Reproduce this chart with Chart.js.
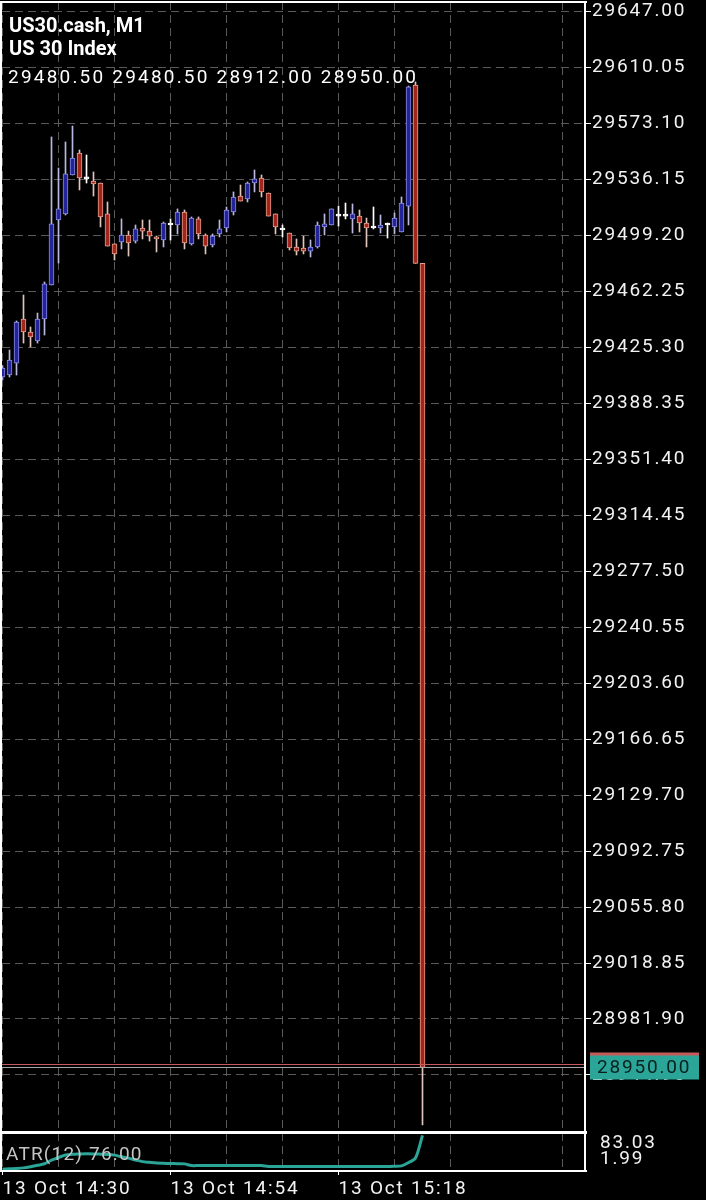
<!DOCTYPE html>
<html>
<head>
<meta charset="utf-8">
<script src="https://cdn.jsdelivr.net/npm/chart.js@4.4.1/dist/chart.umd.min.js"></script>
<style>
  html, body { margin: 0; padding: 0; background: #000; }
  canvas { display: block; }
</style>
</head>
<body>
<canvas id="myChart" width="706" height="1200"></canvas>
<script>
const symbolName = "US30.cash, M1";
const symbolDesc = "US 30 Index";
const timeLabels = ["13 Oct 14:30", "13 Oct 14:54", "13 Oct 15:18"];
const priceTicks = [29647.00, 29610.05, 29573.10, 29536.15, 29499.20, 29462.25, 29425.30, 29388.35,
  29351.40, 29314.45, 29277.50, 29240.55, 29203.60, 29166.65, 29129.70, 29092.75, 29055.80,
  29018.85, 28981.90, 28944.95];

// one candle per minute, 14:30 .. 15:30
const opens = [29405.5, 29406.8, 29414.7, 29443.8, 29435.2, 29429.3, 29443.8, 29466.2, 29509.1, 29513.1,
  29538.8, 29553.3, 29536.2, 29534.8, 29533.5, 29513.1, 29493.3, 29494.6, 29499.2, 29495.2,
  29503.8, 29501.8, 29497.9, 29495.9, 29505.8, 29505.8, 29514.4, 29493.3, 29509.8, 29499.2,
  29492.6, 29499.9, 29503.8, 29514.4, 29524.9, 29523.0, 29533.5, 29536.8, 29526.9, 29513.1,
  29502.5, 29500.5, 29491.3, 29490.6, 29488.6, 29491.3, 29504.5, 29505.8, 29511.7, 29511.7,
  29509.8, 29511.7, 29507.1, 29503.8, 29503.8, 29505.8, 29504.5, 29501.2, 29518.3, 29598.2,
  29480.5];
const highs = [29413.0, 29423.3, 29442.5, 29459.6, 29438.5, 29447.7, 29468.2, 29563.9, 29543.4, 29560.6,
  29571.1, 29555.3, 29552.0, 29540.8, 29533.5, 29521.0, 29493.3, 29509.8, 29501.8, 29505.8,
  29509.1, 29509.1, 29498.5, 29507.8, 29509.8, 29516.4, 29515.7, 29511.1, 29511.1, 29499.9,
  29499.9, 29509.1, 29517.7, 29527.6, 29532.2, 29534.2, 29542.1, 29538.8, 29526.9, 29513.1,
  29505.8, 29500.5, 29496.6, 29498.5, 29495.9, 29507.8, 29513.1, 29516.4, 29518.3, 29520.3,
  29519.7, 29515.7, 29510.4, 29517.7, 29512.4, 29507.1, 29513.7, 29524.3, 29597.5, 29600.2,
  29480.5];
const lows = [29403.5, 29405.5, 29406.8, 29427.9, 29425.3, 29427.9, 29433.2, 29466.2, 29480.7, 29512.4,
  29538.8, 29528.9, 29533.5, 29524.9, 29504.5, 29491.9, 29482.7, 29490.0, 29485.3, 29493.9,
  29496.6, 29495.2, 29488.0, 29491.3, 29495.9, 29499.9, 29490.0, 29492.6, 29496.6, 29486.7,
  29491.3, 29497.9, 29501.2, 29512.4, 29521.6, 29521.0, 29527.6, 29524.3, 29511.7, 29499.9,
  29497.9, 29489.3, 29486.0, 29486.7, 29484.7, 29490.6, 29499.2, 29505.8, 29505.1, 29509.8,
  29500.5, 29501.2, 29491.3, 29503.2, 29500.5, 29497.2, 29499.9, 29501.2, 29505.8, 29480.5,
  28912.0];
const closes = [29411.4, 29416.7, 29441.8, 29435.2, 29431.9, 29443.8, 29466.9, 29506.5, 29516.4, 29539.5,
  29550.0, 29536.8, 29536.2, 29532.9, 29511.1, 29491.9, 29486.7, 29499.2, 29493.9, 29503.2,
  29501.8, 29498.5, 29496.6, 29507.1, 29505.8, 29514.4, 29493.9, 29510.4, 29499.9, 29491.9,
  29498.5, 29503.2, 29515.7, 29524.3, 29521.6, 29533.5, 29536.2, 29527.6, 29511.7, 29504.5,
  29502.5, 29490.6, 29488.6, 29488.6, 29491.3, 29505.8, 29506.5, 29516.4, 29511.7, 29511.7,
  29513.1, 29507.1, 29503.8, 29503.8, 29505.8, 29505.8, 29510.4, 29520.3, 29596.9, 29480.5,
  28950.0];
const atr = [5.8, 6.6, 7.3, 8.5, 10.8, 13.8, 17.0, 24.5, 30.0, 35.2,
  36.6, 37.2, 37.6, 37.5, 37.0, 36.4, 35.0, 31.5, 28.7, 25.0,
  21.5, 20.0, 18.6, 18.0, 17.6, 17.2, 16.8, 13.3, 13.3, 13.3,
  13.3, 13.3, 13.3, 13.3, 13.3, 13.3, 13.3, 13.2, 11.3, 11.2,
  11.2, 11.2, 11.2, 11.2, 11.2, 11.2, 11.2, 11.2, 11.2, 11.2,
  11.2, 11.2, 11.2, 11.2, 11.2, 11.2, 11.8, 12.6, 19.5, 29.0,
  76.0];
const atrLabels = ["83.03", "1.99"];
const atrMin = 1.99, atrMax = 83.03;
const bidPrice = 28950.00;
const askPrice = 28952.2;

const yMax = 29652.94, yMin = 28907.34;

const bullFill = '#24249a', bullLine = '#8c8ce0', bullWick = '#b8b8e0';
const bearFill = '#a3261c', bearLine = '#e2a08e', bearWick = '#e0c4bc';
const dojiColor = '#ffffff';
const gridColor = '#5a5a5a';
const teal = '#2aa597';
const numFont = {family: 'Roboto', size: 19};

const idx = closes.map((_, i) => i);
const dir = i => closes[i] > opens[i] ? 1 : (closes[i] < opens[i] ? -1 : 0);

const noPad = axis => {
  axis.paddingTop = 0;
  axis.paddingBottom = 0;
  axis.paddingLeft = 0;
  axis.paddingRight = 0;
};

const mtPlugin = {
  id: 'mtPlugin',
  beforeDraw(chart) {
    const ctx = chart.ctx;
    ctx.save();
    ctx.fillStyle = '#000';
    ctx.fillRect(0, 0, chart.width, chart.height);
    ctx.restore();
    ctx.letterSpacing = '1.8px';
  },
  afterDraw(chart) {
    const ctx = chart.ctx;
    const y = chart.scales.y;
    const area = chart.chartArea;
    const yAtr = chart.scales.yAtr;
    ctx.save();

    // ask / bid lines
    const askY = Math.round(y.getPixelForValue(askPrice)) + 0.5;
    const bidY = Math.round(y.getPixelForValue(bidPrice)) + 0.5;
    ctx.lineWidth = 1;
    ctx.strokeStyle = '#c65a5a';
    ctx.beginPath(); ctx.moveTo(area.left, askY); ctx.lineTo(area.right, askY); ctx.stroke();
    ctx.strokeStyle = '#a8a8a8';
    ctx.beginPath(); ctx.moveTo(area.left, bidY); ctx.lineTo(area.right, bidY); ctx.stroke();

    // frame
    ctx.fillStyle = '#fff';
    ctx.fillRect(0, 1, 2, yAtr.bottom);
    ctx.fillRect(0, 1, area.right + 1, 2);
    ctx.fillRect(area.right - 2, 1, 2, yAtr.bottom);
    ctx.fillRect(0, y.bottom - 1, area.right + 1, 3);
    ctx.fillRect(0, yAtr.bottom - 1, area.right + 1, 2);

    // price labels
    ctx.fillStyle = '#c65a5a';
    ctx.fillRect(area.right + 4, askY - 12, 109, 24);
    ctx.fillStyle = teal;
    ctx.fillRect(area.right + 4, bidY - 12, 109, 24);
    ctx.font = '19px Roboto';
    ctx.letterSpacing = '1.8px';
    ctx.textBaseline = 'middle';
    ctx.fillStyle = '#08201d';
    ctx.fillText(bidPrice.toFixed(2), area.right + 11, bidY + 1);

    // header
    ctx.letterSpacing = '0px';
    ctx.fillStyle = '#fff';
    ctx.textBaseline = 'alphabetic';
    ctx.font = 'bold 20px Roboto';
    ctx.fillText(symbolName, 9, 32);
    ctx.fillText(symbolDesc, 9, 55);
    const last = closes.length - 1;
    ctx.font = '19px Roboto';
    ctx.letterSpacing = '2.2px';
    ctx.fillText([opens[last], highs[last], lows[last], closes[last]].map(v => v.toFixed(2)).join(' '), 8, 83);

    // indicator name
    ctx.letterSpacing = '1.2px';
    ctx.fillStyle = '#c4c4c4';
    ctx.fillText('ATR(12) ' + atr[last].toFixed(2), 6, 1160);
    ctx.restore();
  }
};

const chart = new Chart("myChart", {
  type: "bar",
  data: {
    datasets: [
      {
        label: 'ATR',
        type: 'line',
        data: idx.map(i => ({x: i, y: atr[i]})),
        yAxisID: 'yAtr',
        borderColor: teal,
        borderWidth: 3,
        pointRadius: 0,
        tension: 0.3,
        order: 0
      },
      {
        label: 'body',
        data: idx.map(i => ({x: i, y: [opens[i], closes[i]]})),
        yAxisID: 'y',
        backgroundColor: idx.map(i => dir(i) > 0 ? bullFill : dir(i) < 0 ? bearFill : dojiColor),
        borderColor: idx.map(i => dir(i) > 0 ? bullLine : dir(i) < 0 ? bearLine : dojiColor),
        borderWidth: 1,
        borderSkipped: false,
        barThickness: 5,
        minBarLength: 2,
        grouped: false,
        order: 1
      },
      {
        label: 'wick',
        data: idx.map(i => ({x: i, y: [lows[i], highs[i]]})),
        yAxisID: 'y',
        backgroundColor: idx.map(i => dir(i) > 0 ? bullWick : dir(i) < 0 ? bearWick : dojiColor),
        borderWidth: 0,
        barThickness: 1,
        grouped: false,
        order: 2
      }
    ]
  },
  options: {
    responsive: false,
    animation: false,
    devicePixelRatio: 1,
    layout: {padding: {left: 2, top: 2, right: 0, bottom: 0}},
    plugins: {legend: {display: false}, tooltip: {enabled: false}},
    scales: {
      x: {
        type: 'linear',
        min: -0.5 / 7,
        max: -0.5 / 7 + 584 / 7,
        offset: false,
        afterBuildTicks: axis => {
          const t = [];
          for (let v = 0; v <= axis.max; v += 8) t.push({value: v});
          axis.ticks = t;
        },
        afterFit: axis => { axis.height = 29; noPad(axis); },
        ticks: {
          color: '#f2f2f2',
          font: numFont,
          align: 'start',
          maxRotation: 0,
          autoSkip: false,
          padding: 3,
          callback: v => v % 24 === 0 ? timeLabels[v / 24] : ''
        },
        grid: {
          color: gridColor,
          offset: false,
          tickLength: 4,
          tickColor: c => (c.tick && c.tick.value % 24 === 0) ? '#fff' : 'rgba(0,0,0,0)'
        },
        border: {display: false, dash: [8, 5]}
      },
      y: {
        type: 'linear',
        position: 'right',
        stack: 'panes',
        stackWeight: 1130,
        min: yMin,
        max: yMax,
        afterBuildTicks: axis => { axis.ticks = priceTicks.map(v => ({value: v})); },
        afterFit: axis => { axis.width = 120; noPad(axis); },
        ticks: {
          color: '#f2f2f2',
          font: numFont,
          padding: 1,
          autoSkip: false,
          crossAlign: 'near',
          callback: v => v.toFixed(2)
        },
        grid: {color: gridColor, tickLength: 5, tickColor: '#fff', tickWidth: 1},
        border: {display: false, dash: [8, 5]}
      },
      yAtr: {
        type: 'linear',
        position: 'right',
        stack: 'panes',
        stackWeight: 39,
        min: atrMin,
        max: atrMax,
        afterBuildTicks: axis => {
          const span = axis.max - axis.min;
          axis.ticks = [{value: axis.max - span * 0.3}, {value: axis.min + span * 0.3}];
        },
        afterFit: axis => { axis.width = 120; noPad(axis); },
        ticks: {
          color: '#f2f2f2',
          font: numFont,
          padding: 6,
          autoSkip: false,
          crossAlign: 'near',
          callback: (v, i) => atrLabels[i]
        },
        grid: {display: false},
        border: {display: false}
      }
    }
  },
  plugins: [mtPlugin]
});
</script>
</body>
</html>
